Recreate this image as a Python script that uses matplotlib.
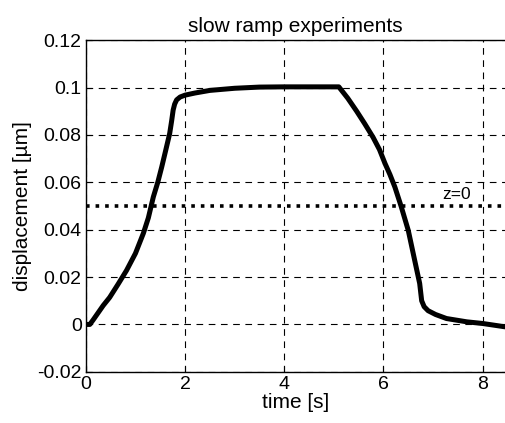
import numpy as np
import matplotlib.pyplot as plt

plt.rcParams['font.family'] = ['Liberation Sans', 'DejaVu Sans']

# displacement curve
time_s = [0.0, 0.08, 0.15, 0.25, 0.35, 0.48, 0.65, 0.82, 1.0, 1.16, 1.26, 1.36,
          1.45, 1.53, 1.61, 1.69, 1.73, 1.76, 1.79, 1.83, 1.90, 2.0, 2.2, 2.5,
          3.0, 3.5, 4.0, 4.5, 5.1, 5.28, 5.46, 5.62, 5.79, 5.92, 6.03, 6.13,
          6.23, 6.36, 6.5, 6.63, 6.73, 6.77, 6.82, 6.9, 7.05, 7.27, 7.68, 8.0,
          8.45]
displacement = [0.0, 0.0, 0.002, 0.005, 0.008, 0.0114, 0.017, 0.0228, 0.030,
                0.0385, 0.045, 0.0538, 0.060, 0.0665, 0.0735, 0.0806, 0.086,
                0.0905, 0.093, 0.0948, 0.096, 0.0968, 0.0977, 0.0988, 0.0997,
                0.1002, 0.1003, 0.1003, 0.1003, 0.0955, 0.090, 0.0848, 0.079,
                0.0738, 0.068, 0.0633, 0.058, 0.0496, 0.0397, 0.027, 0.0173,
                0.010, 0.0075, 0.0058, 0.0042, 0.0025, 0.0011, 0.0004, -0.001]
z0_level = 0.05

fig = plt.figure(figsize=(5.05, 4.23), dpi=100)
ax = fig.add_axes([0.170, 0.121, 0.830, 0.784])

ax.plot(time_s, displacement, color='black', linewidth=3.6,
        solid_joinstyle='round', solid_capstyle='round')
ax.axhline(z0_level, color='black', linestyle=':', linewidth=2.6)
ax.text(7.18, z0_level + 0.0015, 'z=0', fontsize=12.5, va='bottom')

ax.set_xlim(0, 8.45)
ax.set_ylim(-0.02, 0.12)
ax.set_xticks([0, 2, 4, 6, 8])
ax.set_xticklabels(['0', '2', '4', '6', '8'])
ax.set_yticks([-0.02, 0, 0.02, 0.04, 0.06, 0.08, 0.1, 0.12])
ax.set_yticklabels(['-0.02', '0', '0.02', '0.04', '0.06', '0.08', '0.1', '0.12'])
ax.tick_params(direction='in', labelsize=14, length=4, color='black', right=False,
               top=False, pad=3)
ax.spines['right'].set_visible(False)
for s in ['left', 'top', 'bottom']:
    ax.spines[s].set_linewidth(1.0)

ax.grid(True, color='black', linestyle=(0, (6, 5)), linewidth=0.8)

ax.set_xlabel('time [s]', fontsize=15, labelpad=0)
ax.set_ylabel('displacement [µm]', fontsize=15, labelpad=4)
ax.set_title('slow ramp experiments', fontsize=15, pad=6)

fig.savefig('out.png', dpi=100)
